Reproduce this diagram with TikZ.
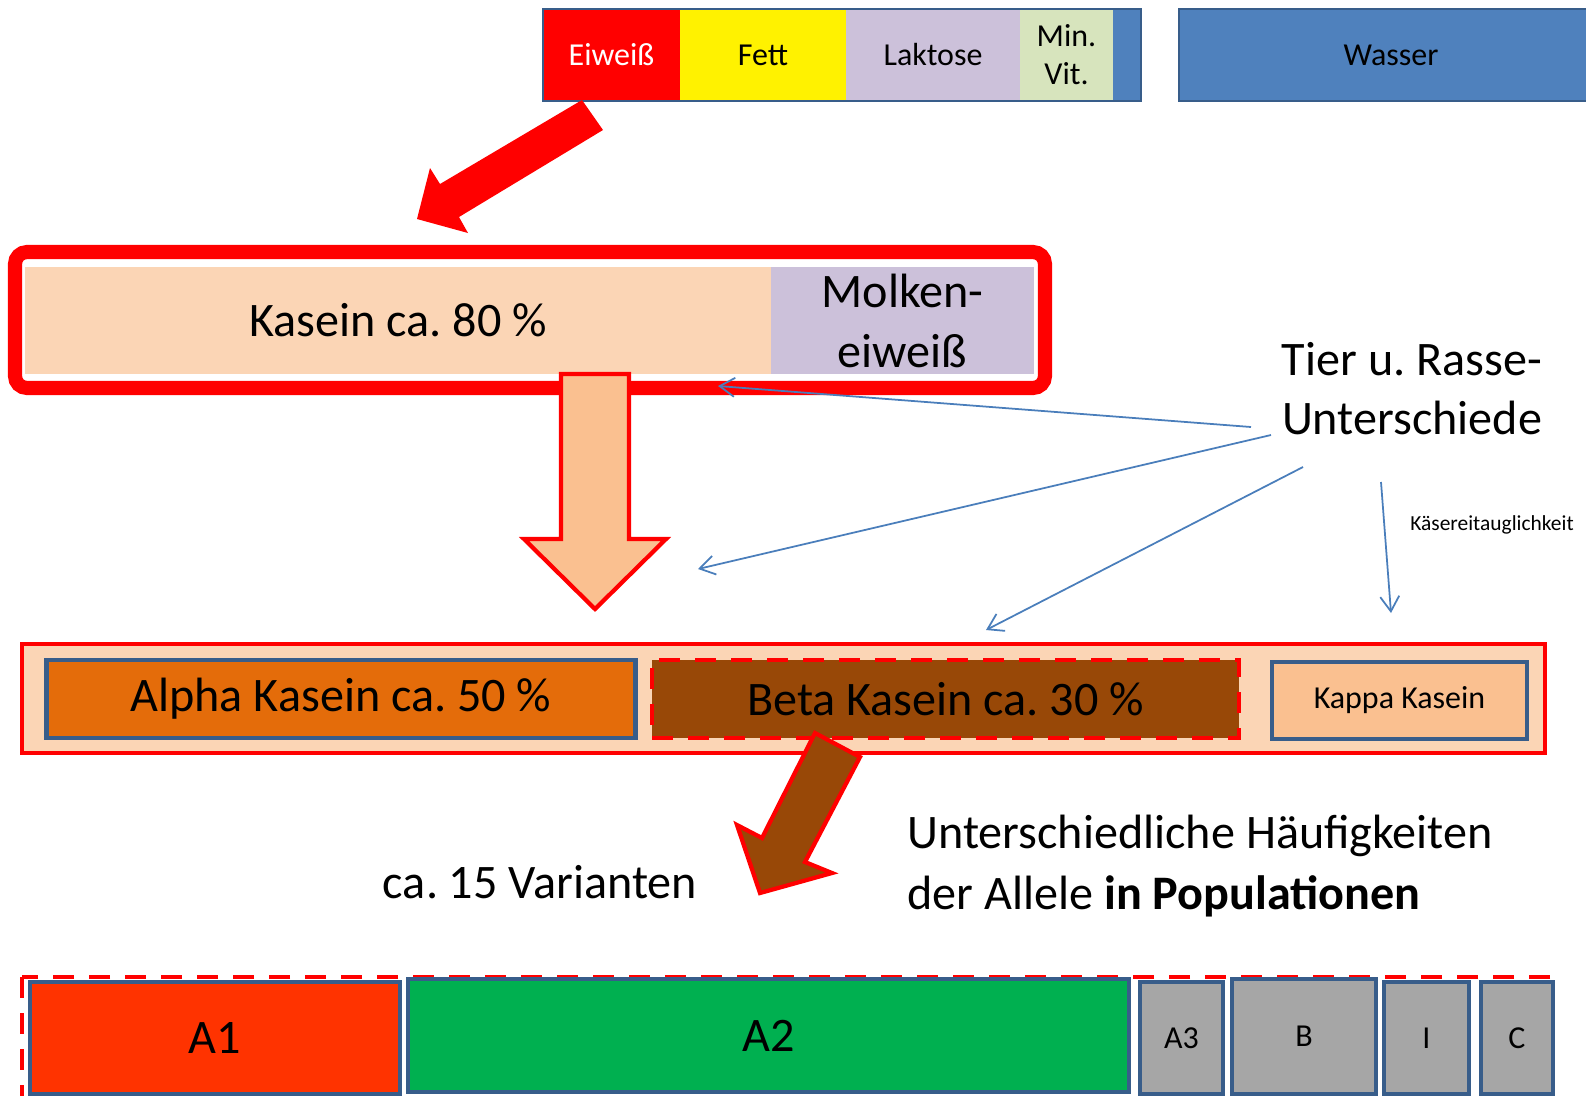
\documentclass[tikz,border=0pt]{standalone}
\usepackage{fontspec}
\setmainfont{Carlito}
\usetikzlibrary{arrows.meta}
\definecolor{milkblue}{HTML}{4F81BD}
\definecolor{frameblue}{HTML}{385D8A}
\definecolor{lavender}{HTML}{CCC1DA}
\definecolor{mingreen}{HTML}{D7E4BD}
\definecolor{peach}{HTML}{FBD5B5}
\definecolor{apricot}{HTML}{FAC090}
\definecolor{alphaorange}{HTML}{E46C0A}
\definecolor{betabrown}{HTML}{984807}
\definecolor{aonered}{HTML}{FF3300}
\definecolor{atwogreen}{HTML}{00B050}
\definecolor{allelegray}{HTML}{A6A6A6}
\definecolor{arrowblue}{HTML}{4A7EBB}
\frenchspacing
\begin{document}
\begin{tikzpicture}[x=0.1mm,y=-0.1mm,
    bigtxt/.style={font=\fontsize{13.7}{16.2}\selectfont},
    midtxt/.style={font=\fontsize{9.1}{10.8}\selectfont},
    tinytxt/.style={font=\fontsize{6.1}{7}\selectfont},
    seg/.style={midtxt,inner sep=0pt,outer sep=0pt,minimum height=9mm,align=center},
    kbox/.style={inner sep=0pt,outer sep=0pt,draw=frameblue,line width=1.2pt,align=center},
    redframe/.style={draw=red,line width=1.3pt,dash pattern=on 2.1mm off 1.5mm},
    blockarrow/.style={draw=red,line width=1.2pt},
    blueline/.style={draw=arrowblue,line width=0.5pt,-{Straight Barb[length=1.5mm,width=1.9mm]}}]
    \clip (0,0) rectangle (1586,1095);
    % Milch
    \fill[milkblue] (543,9) rectangle (1141,101);
    \node[seg,fill=red,text=white,minimum width=13.7mm] (eiweiss) at (611.5,55) {Eiweiß};
    \node[seg,fill=yellow,minimum width=16.6mm] (fett) at (763,55) {Fett};
    \node[seg,fill=lavender,minimum width=17.4mm] (laktose) at (933,55) {Laktose};
    \node[seg,fill=mingreen,minimum width=9.3mm] (minvit) at (1066.5,55) {Min.\\Vit.};
    \draw[frameblue,line width=0.6pt] (543,9) rectangle (1141,101);
    \node[seg,fill=milkblue,draw=frameblue,line width=0.6pt,minimum width=42.4mm,minimum height=9.2mm] (wasser) at (1391,55) {Wasser};
    \fill[red] (582,100) -- (603,130) -- (459,217) -- (468,233) -- (417,219) -- (430,168) -- (440,184) -- cycle;
    % Eiweiss
    \draw[red,line width=4pt,rounded corners=1.2mm] (15,252) rectangle (1045,388);
    \node[bigtxt,inner sep=0pt,fill=peach,minimum width=74.6mm,minimum height=10.7mm] (kasein) at (398,320.5) {Kasein ca. 80 \%};
    \node[bigtxt,inner sep=0pt,fill=lavender,minimum width=26.3mm,minimum height=10.7mm,align=center] (molken) at (902.5,320.5) {Molken-\\[0.3mm]eiweiß};
    \filldraw[blockarrow,fill=apricot] (561,374) -- (629,374) -- (629,539) -- (666,539) -- (595,609) -- (524,539) -- (561,539) -- cycle;
    % Kasein
    \draw[red,fill=peach,line width=1.3pt] (22,644) rectangle (1545,753);
    \node[kbox,bigtxt,fill=alphaorange,minimum width=58.9mm,minimum height=7.8mm] (alpha) at (341,699) {Alpha Kasein ca. 50 \%};
    \node[kbox,bigtxt,fill=betabrown,redframe,minimum width=58.7mm,minimum height=7.8mm] (beta) at (945.5,699) {Beta Kasein ca. 30 \%};
    \node[kbox,midtxt,fill=apricot,minimum width=25.5mm,minimum height=7.7mm] (kappa) at (1399.5,700.5) {Kappa Kasein};
    \filldraw[blockarrow,fill=betabrown] (815,733) -- (860,757) -- (805,862) -- (832,873) -- (760,893) -- (737,825) -- (762,838) -- cycle;
    % Unterschiede
    \node[bigtxt,align=center] (tier) at (1412,389) {Tier u. Rasse-\\[0.2mm]Unterschiede};
    \coordinate (r1) at (1251,427); \coordinate (e1) at (718,386);
    \coordinate (r2) at (1271,435); \coordinate (e2) at (698,569);
    \coordinate (r3) at (1303,467); \coordinate (e3) at (986,630);
    \coordinate (r4) at (1381,482); \coordinate (e4) at (1391,613);
    \draw[blueline] (r1) -- (e1);
    \draw[blueline] (r2) -- (e2);
    \draw[blueline] (r3) -- (e3);
    \draw[blueline] (r4) -- (e4);
    \node[tinytxt] (kaese) at (1492,525) {Käsereitauglichkeit};
    \node[bigtxt] (varianten) at (540,882) {ca. 15 Varianten};
    \node[bigtxt,align=left,anchor=west] (allele) at (895,866) {Unterschiedliche Häufigkeiten\\[0.4mm]der Allele \textbf{in Populationen}};
    % Allele
    \draw[redframe] (22,977) rectangle (1553,1110);
    \node[kbox,bigtxt,fill=aonered,minimum width=37mm,minimum height=11.2mm] (aone) at (215,1038) {A1};
    \node[kbox,bigtxt,fill=atwogreen,minimum width=72.1mm,minimum height=11.3mm] (atwo) at (768.5,1035.5) {A2};
    \node[kbox,midtxt,fill=allelegray,minimum width=8.3mm,minimum height=11.2mm] (athree) at (1181.5,1038) {A3};
    \node[kbox,midtxt,fill=allelegray,minimum width=14.4mm,minimum height=11.5mm] (b) at (1304,1036.5) {B};
    \node[kbox,midtxt,fill=allelegray,minimum width=8.5mm,minimum height=11.2mm] (i) at (1426.5,1038) {I};
    \node[kbox,midtxt,fill=allelegray,minimum width=7.2mm,minimum height=11.2mm] (c) at (1517,1038) {C};
\end{tikzpicture}
\end{document}
